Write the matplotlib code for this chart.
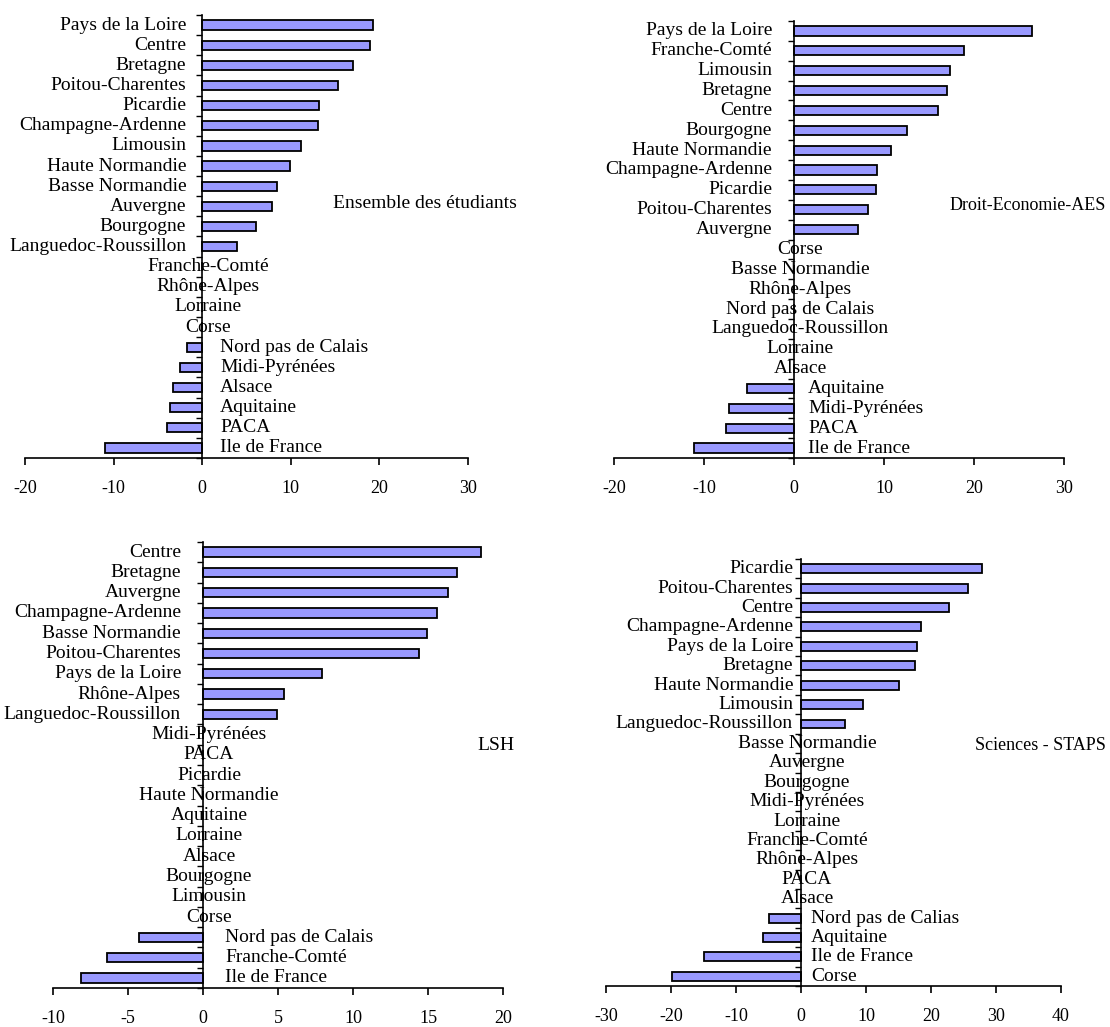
import matplotlib
matplotlib.use("Agg")
import matplotlib.pyplot as plt
import numpy as np

plt.rcParams['font.family'] = ['Liberation Serif', 'DejaVu Serif']
plt.rcParams['axes.unicode_minus'] = False

# ensemble des etudiants
regions1 = ["Pays de la Loire", "Centre", "Bretagne", "Poitou-Charentes", "Picardie",
            "Champagne-Ardenne", "Limousin", "Haute Normandie", "Basse Normandie", "Auvergne",
            "Bourgogne", "Languedoc-Roussillon", "Franche-Comté", "Rhône-Alpes", "Lorraine",
            "Corse", "Nord pas de Calais", "Midi-Pyrénées", "Alsace", "Aquitaine", "PACA",
            "Ile de France"]
values1 = [19.3, 18.9, 17.0, 15.3, 13.2, 13.1, 11.1, 9.9, 8.4, 7.9, 6.1, 3.9,
           0, 0, 0, 0, -1.7, -2.5, -3.3, -3.6, -4.0, -11.0]

# droit - economie - AES
regions2 = ["Pays de la Loire", "Franche-Comté", "Limousin", "Bretagne", "Centre",
            "Bourgogne", "Haute Normandie", "Champagne-Ardenne", "Picardie", "Poitou-Charentes",
            "Auvergne", "Corse", "Basse Normandie", "Rhône-Alpes", "Nord pas de Calais",
            "Languedoc-Roussillon", "Lorraine", "Alsace", "Aquitaine", "Midi-Pyrénées", "PACA",
            "Ile de France"]
values2 = [26.4, 18.9, 17.3, 17.0, 16.0, 12.6, 10.8, 9.2, 9.1, 8.2, 7.1,
           0, 0, 0, 0, 0, 0, 0, -5.2, -7.2, -7.6, -11.1]

# LSH
regions3 = ["Centre", "Bretagne", "Auvergne", "Champagne-Ardenne", "Basse Normandie",
            "Poitou-Charentes", "Pays de la Loire", "Rhône-Alpes", "Languedoc-Roussillon",
            "Midi-Pyrénées", "PACA", "Picardie", "Haute Normandie", "Aquitaine", "Lorraine",
            "Alsace", "Bourgogne", "Limousin", "Corse", "Nord pas de Calais", "Franche-Comté",
            "Ile de France"]
values3 = [18.5, 16.9, 16.3, 15.6, 14.9, 14.4, 7.9, 5.4, 4.9,
           0, 0, 0, 0, 0, 0, 0, 0, 0, 0, -4.3, -6.4, -8.1]

# sciences - STAPS
regions4 = ["Picardie", "Poitou-Charentes", "Centre", "Champagne-Ardenne", "Pays de la Loire",
            "Bretagne", "Haute Normandie", "Limousin", "Languedoc-Roussillon", "Basse Normandie",
            "Auvergne", "Bourgogne", "Midi-Pyrénées", "Lorraine", "Franche-Comté", "Rhône-Alpes",
            "PACA", "Alsace", "Nord pas de Calias", "Aquitaine", "Ile de France", "Corse"]
values4 = [27.8, 25.7, 22.8, 18.4, 17.9, 17.6, 15.0, 9.6, 6.7,
           0, 0, 0, 0, 0, 0, 0, 0, 0, -5.0, -5.8, -14.9, -19.9]

titles = ["Ensemble des étudiants", "Droit-Economie-AES", "LSH", "Sciences - STAPS"]

W, H = 1110, 1027
FS = 14
px = 0.72  # points per pixel at dpi 100


def draw_panel(box, regions, values, xmin, xmax, step, pos_pad, neg_pad):
    l, r, t, b = box
    ax = fig.add_axes([l / W, 1 - b / H, (r - l) / W, (b - t) / H])
    n = len(regions)
    y = np.arange(n)
    ax.barh(y, values, height=0.46, color='#9999ff', edgecolor='black', linewidth=1.3)
    ax.set_xlim(xmin, xmax)
    ax.set_ylim(n - 0.5, -0.5)

    for s in ['top', 'right']:
        ax.spines[s].set_visible(False)
    ax.spines['left'].set_position(('data', 0))
    ax.spines['left'].set_linewidth(1.2)
    ax.spines['bottom'].set_linewidth(1.2)

    ax.set_yticks(np.arange(-0.5, n, 1))
    ax.set_yticklabels([])
    ax.set_xticks(np.arange(xmin, xmax + step, step))
    ax.tick_params(axis='y', direction='out', length=4, width=1)
    ax.tick_params(axis='x', direction='out', length=5, width=1.2, labelsize=13, pad=11)

    for i, (name, v) in enumerate(zip(regions, values)):
        if v > 0:
            ax.annotate(name, (0, i), xytext=(-pos_pad * px, 0), textcoords='offset points',
                        ha='right', va='center', fontsize=FS)
        elif v < 0:
            ax.annotate(name, (0, i), xytext=(neg_pad * px, 0), textcoords='offset points',
                        ha='left', va='center', fontsize=FS)
        else:
            ax.annotate(name, (0, i), xytext=(6 * px, 0), textcoords='offset points',
                        ha='center', va='center', fontsize=FS)
    return ax


fig = plt.figure(figsize=(W / 100, H / 100), dpi=100)

draw_panel((25, 468, 15, 458), regions1, values1, -20, 30, 10, 16, 18)
draw_panel((614, 1064, 21, 458), regions2, values2, -20, 30, 10, 22, 14)
draw_panel((53, 503, 542, 988), regions3, values3, -10, 20, 5, 22, 22)
draw_panel((606, 1061, 559, 986), regions4, values4, -30, 40, 10, 8, 10)

# panel captions
fig.text(333 / W, 1 - 204 / H, titles[0], ha='left', va='center', fontsize=FS)
fig.text(1106 / W, 1 - 206 / H, titles[1], ha='right', va='center', fontsize=13)
fig.text(496 / W, 1 - 746 / H, titles[2], ha='center', va='center', fontsize=FS)
fig.text(1106 / W, 1 - 746 / H, titles[3], ha='right', va='center', fontsize=13)

fig.savefig("out.png", dpi=100)
